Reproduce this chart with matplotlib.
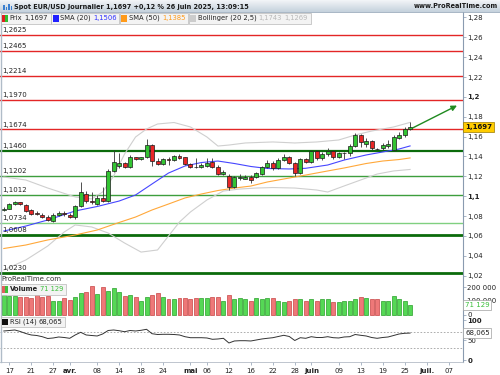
import numpy as np
import matplotlib
matplotlib.use('Agg')
import matplotlib.pyplot as plt
from matplotlib.patches import Rectangle
from matplotlib.colors import LinearSegmentedColormap

plt.rcParams['font.family'] = ['DejaVu Sans']

# EUR/USD journalier, index 0 = lundi 17 mars 2025 (index -1 = 14 mars)
idx = np.arange(-1, 74)
opens = [1.0861, 1.0874, 1.0921, 1.0938, 1.0908, 1.0858, 1.0834, 1.0810, 1.0793, 1.0753,
         1.0807, 1.0828, 1.0810, 1.0787, 1.0904, 1.1022, 1.0951, 1.0921, 1.0979, 1.0948,
         1.1257, 1.1304, 1.1331, 1.1291, 1.1392, 1.1374, 1.1392, 1.1515, 1.1354, 1.1327,
         1.1371, 1.1364, 1.1405, 1.1392, 1.1324, 1.1294, 1.1294, 1.1307, 1.1341, 1.1297,
         1.1223, 1.1203, 1.1089, 1.1186, 1.1176, 1.1196, 1.1190, 1.1226, 1.1291, 1.1337,
         1.1281, 1.1364, 1.1392, 1.1337, 1.1230, 1.1371, 1.1344, 1.1455, 1.1381, 1.1422,
         1.1455, 1.1398, 1.1432, 1.1438, 1.1508, 1.1616, 1.1525, 1.1556, 1.1475, 1.1482,
         1.1508, 1.1465, 1.1589, 1.1616, 1.1674]
highs = [1.0888, 1.0928, 1.0954, 1.0944, 1.0921, 1.0868, 1.0848, 1.0828, 1.0807, 1.0828,
         1.0848, 1.0851, 1.0828, 1.0911, 1.1146, 1.1052, 1.1045, 1.1009, 1.1095, 1.1271,
         1.1465, 1.1438, 1.1347, 1.1415, 1.1398, 1.1398, 1.1573, 1.1522, 1.1381, 1.1388,
         1.1398, 1.1415, 1.1422, 1.1398, 1.1337, 1.1388, 1.1331, 1.1381, 1.1381, 1.1314,
         1.1261, 1.1220, 1.1206, 1.1220, 1.1213, 1.1213, 1.1247, 1.1304, 1.1364, 1.1357,
         1.1381, 1.1425, 1.1405, 1.1347, 1.1381, 1.1381, 1.1465, 1.1465, 1.1448, 1.1482,
         1.1465, 1.1445, 1.1448, 1.1522, 1.1633, 1.1626, 1.1583, 1.1566, 1.1488, 1.1533,
         1.1566, 1.1616, 1.1649, 1.1700, 1.1744]
lows = [1.0848, 1.0868, 1.0914, 1.0908, 1.0844, 1.0807, 1.0807, 1.0783, 1.0747, 1.0743,
        1.0800, 1.0800, 1.0777, 1.0773, 1.0894, 1.0928, 1.0921, 1.0914, 1.0941, 1.0941,
        1.1247, 1.1281, 1.1281, 1.1281, 1.1364, 1.1364, 1.1381, 1.1307, 1.1314, 1.1317,
        1.1314, 1.1354, 1.1371, 1.1314, 1.1281, 1.1281, 1.1281, 1.1297, 1.1287, 1.1213,
        1.1213, 1.1062, 1.1079, 1.1163, 1.1170, 1.1136, 1.1180, 1.1213, 1.1281, 1.1264,
        1.1271, 1.1354, 1.1324, 1.1203, 1.1223, 1.1331, 1.1337, 1.1364, 1.1364, 1.1408,
        1.1374, 1.1381, 1.1371, 1.1405, 1.1492, 1.1492, 1.1498, 1.1465, 1.1462, 1.1462,
        1.1482, 1.1455, 1.1576, 1.1599, 1.1666]
closes = [1.0874, 1.0918, 1.0941, 1.0918, 1.0854, 1.0818, 1.0824, 1.0793, 1.0757, 1.0807,
          1.0828, 1.0824, 1.0787, 1.0901, 1.1042, 1.0954, 1.0941, 1.0979, 1.0951, 1.1257,
          1.1341, 1.1337, 1.1294, 1.1392, 1.1371, 1.1392, 1.1515, 1.1354, 1.1324, 1.1371,
          1.1367, 1.1405, 1.1385, 1.1321, 1.1291, 1.1291, 1.1314, 1.1337, 1.1297, 1.1226,
          1.1247, 1.1092, 1.1196, 1.1190, 1.1196, 1.1163, 1.1236, 1.1291, 1.1337, 1.1281,
          1.1364, 1.1392, 1.1337, 1.1230, 1.1371, 1.1344, 1.1455, 1.1381, 1.1425, 1.1458,
          1.1392, 1.1432, 1.1435, 1.1508, 1.1616, 1.1543, 1.1559, 1.1482, 1.1472, 1.1515,
          1.1522, 1.1599, 1.1616, 1.1674, 1.1697]
volumes = [144000, 139000, 137000, 127000, 127000, 120000, 144000, 130000, 137000, 100000,
           100000, 120000, 107000, 127000, 157000, 164000, 211000, 152000, 201000, 176000,
           194000, 164000, 137000, 142000, 127000, 102000, 127000, 144000, 157000, 127000,
           113000, 113000, 120000, 120000, 113000, 120000, 120000, 120000, 127000, 127000,
           102000, 144000, 113000, 120000, 113000, 102000, 120000, 113000, 120000, 120000,
           102000, 95000, 102000, 113000, 115000, 102000, 115000, 102000, 113000, 113000,
           95000, 95000, 102000, 102000, 115000, 127000, 120000, 115000, 115000, 102000,
           102000, 139000, 113000, 102000, 71129]
rsi = [73.3, 74.5, 75.8, 72.0, 67.0, 63.3, 62.0, 59.0, 54.5, 55.8,
       58.3, 57.0, 55.0, 63.3, 70.0, 63.3, 62.0, 60.8, 65.8, 74.5,
       75.8, 74.0, 71.5, 74.5, 73.3, 75.0, 77.5, 66.5, 64.5, 65.0,
       65.0, 64.5, 63.3, 59.0, 56.5, 56.5, 56.5, 55.8, 52.5, 53.3,
       55.0, 43.3, 48.3, 49.0, 49.0, 48.3, 50.8, 53.3, 55.0, 56.5,
       59.5, 62.5, 59.5, 49.5, 56.5, 55.0, 59.0, 57.0, 57.0, 59.0,
       56.5, 55.8, 58.3, 59.0, 64.5, 62.5, 60.8, 57.0, 55.0, 57.0,
       58.3, 62.0, 65.8, 67.5, 68.065]

# moyennes mobiles et Bollinger
sma_idx = [-1, 3, 7, 12, 16, 20, 23, 26, 29, 32, 35, 38, 41, 44, 47, 51, 54, 58, 61, 65, 68, 71, 73]
sma20 = [1.0649, 1.0699, 1.0760, 1.0851, 1.0896, 1.0951, 1.1012, 1.1123, 1.1233, 1.1304, 1.1339, 1.1354,
         1.1329, 1.1299, 1.1279, 1.1274, 1.1281, 1.1314, 1.1364, 1.1415, 1.1445, 1.1475, 1.1506]
sma50 = [1.0473, 1.0508, 1.0559, 1.0609, 1.0659, 1.0735, 1.0790, 1.0861, 1.0921, 1.0982, 1.1022, 1.1057,
         1.1082, 1.1102, 1.1143, 1.1183, 1.1213, 1.1254, 1.1284, 1.1329, 1.1354, 1.1369, 1.1385]
bb_up_idx = [-1, 3, 7, 12, 15, 17, 19, 21, 23, 25, 27, 30, 33, 36, 38, 40, 43, 48, 52, 56, 60, 63, 66, 70, 73]
bb_up = [1.1193, 1.1163, 1.1082, 1.0992, 1.0972, 1.1042, 1.1202, 1.1425, 1.1596, 1.1677, 1.1727, 1.1742, 1.1697,
         1.1596, 1.1505, 1.1515, 1.1536, 1.1546, 1.1536, 1.1546, 1.1566, 1.1616, 1.1656, 1.1697, 1.1743]
bb_lo_idx = [-1, 3, 7, 10, 12, 15, 18, 21, 24, 27, 29, 31, 33, 36, 39, 42, 45, 48, 52, 56, 58, 61, 64, 67, 70, 73]
bb_lo = [1.0257, 1.0357, 1.0498, 1.0639, 1.0710, 1.0690, 1.0629, 1.0528, 1.0437, 1.0458, 1.0599, 1.0740, 1.0841,
         1.0962, 1.1052, 1.1072, 1.1082, 1.1087, 1.1082, 1.1062, 1.1042, 1.1103, 1.1163, 1.1223, 1.1254, 1.1269]

# niveaux horizontaux
levels = [1.2625, 1.2465, 1.2214, 1.1970, 1.1674, 1.1460, 1.1202, 1.1012, 1.0734, 1.0608, 1.0230]
level_kind = ['r', 'r', 'r', 'r', 'r', 'G', 'g', 'g', 'l', 'G', 'G']
arrow_target = (82, 1.1925)

date_pos = [0, 4, 8, 11, 16, 20, 24, 28, 33, 36, 40, 44, 48, 52, 55, 60, 64, 68, 72, 76, 80]
date_lbl = ['17', '21', '27', 'avr.', '08', '14', '18', '24', 'mai', '06', '12', '16',
            '22', '28', 'juin', '09', '13', '19', '25', 'juil.', '07']
months = ['avr.', 'mai', 'juin', 'juil.']

W, H = 500.0, 375.0
AXIS_X = 462.5
X0, PXD = 9.3, 5.49
FS = 5
GRID = '#8a9bb0'

fig = plt.figure(figsize=(5, 3.75), dpi=100)


def panel(x0, y0, x1, y1):
    return fig.add_axes([x0 / W, 1 - y1 / H, (x1 - x0) / W, (y1 - y0) / H])


def fmt(v, n):
    return f"{v:.{n}f}".replace('.', ',')


def style(a):
    a.set_xlim(-X0 / PXD, (AXIS_X - X0) / PXD)
    for s in ('left', 'top'):
        a.spines[s].set_visible(False)
    a.spines['right'].set_color(GRID)
    a.spines['right'].set_linewidth(0.8)
    a.spines['bottom'].set_color('#b4bcc6')
    a.spines['bottom'].set_linewidth(0.6)
    a.yaxis.tick_right()
    a.tick_params(axis='y', length=2, width=0.5, color=GRID, labelsize=FS, pad=1.5, labelcolor='#222222')


o = np.array(opens); c = np.array(closes); hi = np.array(highs); lo = np.array(lows)
up = c >= o

# ---- prix ----
ax = panel(0, 12, AXIS_X, 276)
style(ax)
ax.set_ylim(1.0196, 1.2855)
ax.set_xticks([])

kinds = {'r': ('#e32626', 1.0), 'G': ('#0b6b0b', 1.6), 'g': ('#3d9e3d', 1.0), 'l': ('#80d080', 1.0)}
for lv, k in zip(levels, level_kind):
    col, lw = kinds[k]
    if lv in (1.0608, 1.0230):
        lw = 2.0
    ax.axhline(lv, color=col, lw=lw, zorder=2)
    ax.annotate(fmt(lv, 4), (0, lv), xycoords=('axes fraction', 'data'), xytext=(1.5, 1.2),
                textcoords='offset points', fontsize=FS, color='#222222', va='bottom', zorder=6)

ax.plot(bb_up_idx, bb_up, color='#cfcfcf', lw=0.8, zorder=2)
ax.plot(bb_lo_idx, bb_lo, color='#cfcfcf', lw=0.8, zorder=2)
ax.plot(sma_idx, sma50, color='#ffa83a', lw=0.8, zorder=2)
ax.plot(sma_idx, sma20, color='#4646ff', lw=0.8, zorder=2)

ax.vlines(idx, lo, hi, color='#333333', lw=0.6, zorder=3)
ax.bar(idx, np.maximum(np.abs(c - o), 0.0002), bottom=np.minimum(o, c), width=0.72,
       color=np.where(up, '#33c433', '#e82626'), edgecolor='#1a1a1a', linewidth=0.5, zorder=4)

ax.annotate('', xy=arrow_target, xytext=(idx[-1], levels[4]),
            arrowprops=dict(arrowstyle='-|>', color='#1f8a1f', lw=1.0, mutation_scale=8), zorder=5)

yt = np.round(np.arange(1.02, 1.2801, 0.02), 2)
ax.set_yticks(yt)
ax.set_yticklabels([f"{t:.2f}".rstrip('0').replace('.', ',') for t in yt])
for t in ax.get_yticklabels():
    if t.get_text() in ('1,2', '1,1'):
        t.set_fontweight('bold')
ax.annotate(fmt(closes[-1], 4), xy=(1, closes[-1]), xycoords=('axes fraction', 'data'),
            xytext=(1.8, 0), textcoords='offset points', va='center', ha='left', fontsize=FS,
            fontweight='bold', color='#111111', annotation_clip=False, zorder=8,
            bbox=dict(boxstyle='square,pad=0.25', fc='#ffcc00', ec='#9a7a00', lw=0.5))

# ---- volume ----
axv = panel(0, 276, AXIS_X, 315.5)
style(axv)
axv.set_ylim(-7400, 285000)
axv.set_xticks([])
axv.bar(idx, volumes, width=0.72, color=np.where(up, '#55d855', '#ee7878'),
        edgecolor=np.where(up, '#2aa02a', '#c84444'), linewidth=0.5)
axv.set_yticks([0, 100000, 200000])
axv.set_yticklabels(['0', '100 000', '200 000'])
axv.annotate('71 129', xy=(1, volumes[-1]), xycoords=('axes fraction', 'data'),
             xytext=(1.8, 0), textcoords='offset points', va='center', ha='left', fontsize=FS,
             color='#3cbf3c', annotation_clip=False, zorder=8,
             bbox=dict(boxstyle='square,pad=0.25', fc='white', ec='#a0a0a0', lw=0.5))

# ---- RSI ----
axr = panel(0, 315.5, AXIS_X, 362)
style(axr)
axr.set_ylim(-4.25, 112)
axr.axhline(70, color='#a0a0a0', lw=0.6, ls=(0, (2, 2)))
axr.axhline(30, color='#a0a0a0', lw=0.6, ls=(0, (2, 2)))
axr.plot(idx, rsi, color='#333333', lw=0.7)
axr.set_yticks([0, 50, 100])
axr.set_yticklabels(['0', '50', '100'])
for t in axr.get_yticklabels():
    if t.get_text() != '50':
        t.set_fontweight('bold')
axr.annotate(fmt(rsi[-1], 3), xy=(1, rsi[-1]), xycoords=('axes fraction', 'data'),
             xytext=(1.8, 0), textcoords='offset points', va='center', ha='left', fontsize=FS,
             color='#222222', annotation_clip=False, zorder=8,
             bbox=dict(boxstyle='square,pad=0.25', fc='white', ec='#a0a0a0', lw=0.5))
axr.set_xticks(date_pos)
axr.set_xticklabels(date_lbl)
axr.tick_params(axis='x', length=2, width=0.5, color=GRID, labelsize=FS, pad=2, labelcolor='#222222')
for t in axr.get_xticklabels():
    if t.get_text() in months:
        t.set_fontweight('bold')

# ---- bandeau, legendes ----
ov = fig.add_axes([0, 0, 1, 1], zorder=10)
ov.axis('off')
ov.imshow(np.linspace(0, 1, 12)[:, None], extent=(0, W, 12, 0), aspect='auto',
          cmap=LinearSegmentedColormap.from_list('hdr', ['#f1f4f7', '#c6d2dd']))
ov.set_xlim(0, W)
ov.set_ylim(H, 0)
ov.plot([0, W], [12, 12], color='#9aabbb', lw=0.6)
ov.plot([0.5, 0.5], [12, 362], color='#b0bcc8', lw=1.0)
for bx, bh in [(3, 5), (5.5, 3), (8, 6), (10.5, 4)]:
    ov.add_patch(Rectangle((bx, 10 - bh), 1.6, bh, color='#3b7fd0', lw=0))
ov.text(14, 6.5, 'Spot EUR/USD Journalier 1,1697 +0,12 % 26 juin 2025, 13:09:15', fontsize=4.7,
        fontweight='bold', va='center', color='#1a1a1a')
ov.text(498, 6.5, 'www.ProRealTime.com', fontsize=4.7, fontweight='bold', va='center', ha='right',
        color='#1a1a1a')

rend = fig.canvas.get_renderer()


def legend_item(x0, y0, y1, cols, parts, fs=4.85):
    # icone + textes enchaines + cadre gris
    ym = (y0 + y1) / 2
    w = 6.0 / len(cols)
    for k, col in enumerate(cols):
        ov.add_patch(Rectangle((x0 + 1.5 + k * w, y0 + 2), w, y1 - y0 - 4, color=col, lw=0, zorder=3))
    x = x0 + 9
    for s, col, wt in parts:
        t = ov.text(x, ym, s, fontsize=fs, va='center', color=col, fontweight=wt, zorder=3)
        x += t.get_window_extent(rend).width + 2.5
    ov.add_patch(Rectangle((x0, y0), x - x0, y1 - y0, fc='#f3f3f3', ec='#b8b8b8', lw=0.5, zorder=2))
    return x


dk = '#222222'
x = legend_item(0.5, 12.8, 23.5, ['#e02020', '#2fbf2f'], [('Prix', dk, 'normal'), ('1,1697', dk, 'normal')])
x = legend_item(x + 0.5, 12.8, 23.5, ['#2020ff'], [('SMA (20)', dk, 'normal'), ('1,1506', '#3030ff', 'normal')])
x = legend_item(x + 0.5, 12.8, 23.5, ['#ff9a1a'], [('SMA (50)', dk, 'normal'), ('1,1385', '#ff9a1a', 'normal')])
x = legend_item(x + 0.5, 12.8, 23.5, ['#cccccc'], [('Bollinger (20 2,5)', dk, 'normal'),
                                                   ('1,1743', '#b8b8b8', 'normal'), ('1,1269', '#b8b8b8', 'normal')])

ov.text(1.5, 279, 'ProRealTime.com', fontsize=FS, va='center', color='#333333')
legend_item(0.5, 283.5, 294.5, ['#e06060', '#3cc03c'], [('Volume', dk, 'bold'), ('71 129', '#3cbf3c', 'normal')])
legend_item(0.5, 316.5, 327, ['#111111'], [('RSI (14)', dk, 'normal'), ('68,065', dk, 'normal')])

fig.savefig('out.png', dpi=100)
